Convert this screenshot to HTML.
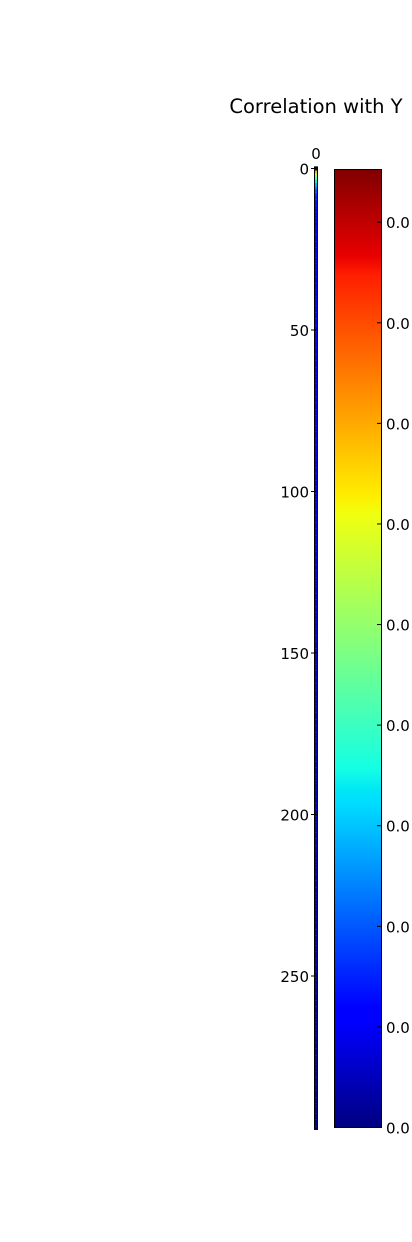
<!DOCTYPE html>
<html><head><meta charset="utf-8">
<style>
html,body{margin:0;padding:0;background:#fff;width:412px;height:1242px;overflow:hidden}
svg{display:block;font-family:"DejaVu Sans","Liberation Sans",sans-serif}
</style></head>
<body>
<svg id="chart" width="412" height="1242" viewBox="0 0 412 1242" xmlns="http://www.w3.org/2000/svg">
<defs>
<linearGradient id="jet" x1="0" y1="1" x2="0" y2="0">
<stop offset="0" stop-color="rgb(0,0,128)"/>
<stop offset="0.11" stop-color="rgb(0,0,255)"/>
<stop offset="0.125" stop-color="rgb(0,0,255)"/>
<stop offset="0.34" stop-color="rgb(0,222,255)"/>
<stop offset="0.35" stop-color="rgb(0,229,247)"/>
<stop offset="0.375" stop-color="rgb(20,255,228)"/>
<stop offset="0.5" stop-color="rgb(128,255,128)"/>
<stop offset="0.64" stop-color="rgb(240,255,15)"/>
<stop offset="0.66" stop-color="rgb(255,237,0)"/>
<stop offset="0.89" stop-color="rgb(255,30,0)"/>
<stop offset="0.91" stop-color="rgb(232,0,0)"/>
<stop offset="1" stop-color="rgb(128,0,0)"/>
</linearGradient>
</defs>
<text x="316" y="113" font-size="19.5" text-anchor="middle">Correlation with Y</text>
<g id="heat"></g>
<g id="yaxis"></g>
<text x="316" y="159" font-size="15" text-anchor="middle">0</text>
<line x1="316" y1="167" x2="316" y2="171" stroke="#000" stroke-width="1"/>
<rect x="334.5" y="169.5" width="47" height="958" fill="url(#jet)" stroke="#000" stroke-width="1"/>
<g id="cbticks"></g>
</svg>
<script>
const yTicks = [0, 50, 100, 150, 200, 250];
const cbTickLabels = ["0.0","0.0","0.0","0.0","0.0","0.0","0.0","0.0","0.0","0.0"];
const cbTickFractions = [0.945, 0.84, 0.735, 0.63, 0.525, 0.42, 0.315, 0.21, 0.105, 0.0];
const corrTop = [1.0, 0.72, 0.55, 0.45, 0.36, 0.30, 0.25, 0.21, 0.18, 0.16, 0.145, 0.135];
const corrRest = [
0.13,0.128,0.125,0.127,0.124,0.122,0.123,0.121,0.12,0.122,0.119,0.12,0.118,0.119,0.117,0.118,0.116,0.117,0.115,0.116,0.115,0.114,0.115,0.113,
0.114,0.112,0.113,0.112,0.111,0.112,0.11,0.111,0.11,0.109,0.11,0.108,0.109,0.108,0.107,0.108,0.106,0.107,0.106,0.105,0.106,0.104,0.105,0.104,
0.103,0.104,0.102,0.103,0.102,0.101,0.102,0.1,0.101,0.1,0.099,0.1,0.098,0.099,0.098,0.097,0.098,0.096,0.097,0.096,0.095,0.096,0.094,0.095,
0.094,0.093,0.094,0.092,0.093,0.092,0.091,0.092,0.09,0.091,0.09,0.089,0.09,0.088,0.089,0.088,0.087,0.088,0.086,0.087,0.086,0.085,0.086,0.084,
0.085,0.084,0.083,0.084,0.082,0.083,0.082,0.081,0.082,0.08,0.081,0.08,0.079,0.08,0.078,0.079,0.078,0.077,0.078,0.076,0.077,0.076,0.075,0.076,
0.074,0.075,0.074,0.073,0.074,0.072,0.073,0.072,0.071,0.072,0.07,0.071,0.07,0.069,0.07,0.068,0.069,0.068,0.067,0.068,0.066,0.067,0.066,0.065,
0.066,0.064,0.065,0.064,0.063,0.064,0.062,0.063,0.062,0.061,0.062,0.06,0.061,0.06,0.059,0.06,0.058,0.059,0.058,0.057,0.058,0.056,0.057,0.056,
0.055,0.056,0.054,0.055,0.054,0.053,0.054,0.052,0.053,0.052,0.051,0.052,0.05,0.051,0.05,0.049,0.05,0.048,0.049,0.048,0.047,0.048,0.046,0.047,
0.046,0.045,0.046,0.044,0.045,0.044,0.043,0.044,0.042,0.043,0.042,0.041,0.042,0.04,0.041,0.04,0.039,0.04,0.038,0.039,0.038,0.037,0.038,0.036,
0.037,0.036,0.035,0.036,0.034,0.035,0.034,0.033,0.034,0.032,0.033,0.032,0.031,0.032,0.03,0.031,0.03,0.029,0.03,0.028,0.029,0.028,0.027,0.028,
0.026,0.027,0.026,0.025,0.026,0.024,0.025,0.024,0.023,0.024,0.022,0.023,0.022,0.021,0.022,0.02,0.021,0.02,0.019,0.02,0.018,0.019,0.018,0.017,
0.018,0.016,0.017,0.016,0.015,0.016,0.014,0.015,0.014,0.013,0.014,0.012,0.013,0.012,0.011,0.012,0.01,0.011,0.01,0.009,0.01,0.008
];
const values = corrTop.concat(corrRest);

const NS = "http://www.w3.org/2000/svg";
const y0 = 168.5, pxPerRow = 3.23;
function yScale(r){ return y0 + r * pxPerRow; }
function interp(pts, v){
  for (let i=1;i<pts.length;i++){
    if (v <= pts[i][0]) { const a=pts[i-1], b=pts[i]; return a[1] + (b[1]-a[1])*(v-a[0])/(b[0]-a[0]); }
  }
  return pts[pts.length-1][1];
}
function jet(v){
  v = Math.max(0, Math.min(1, v));
  const r = interp([[0,0],[0.35,0],[0.66,1],[0.89,1],[1,0.5]], v);
  const g = interp([[0,0],[0.125,0],[0.375,1],[0.64,1],[0.91,0],[1,0]], v);
  const b = interp([[0,0.5],[0.11,1],[0.34,1],[0.65,0],[1,0]], v);
  return "rgb("+Math.round(r*255)+","+Math.round(g*255)+","+Math.round(b*255)+")";
}
const heat = document.getElementById("heat");
values.forEach((v, i) => {
  const rc = document.createElementNS(NS, "rect");
  rc.setAttribute("x", 314.5);
  rc.setAttribute("y", yScale(i - 0.5));
  rc.setAttribute("width", 3);
  rc.setAttribute("height", pxPerRow + 0.1);
  rc.setAttribute("fill", jet(v));
  
  
  heat.appendChild(rc);
});
const frame = document.createElementNS(NS, "rect");
frame.setAttribute("x", 314.5);
frame.setAttribute("y", yScale(-0.5));
frame.setAttribute("width", 3);
frame.setAttribute("height", values.length * pxPerRow);
frame.setAttribute("fill", "none");
frame.setAttribute("stroke", "#000");
frame.setAttribute("stroke-width", "1");


heat.appendChild(frame);

const yaxis = document.getElementById("yaxis");
yTicks.forEach(t => {
  const y = yScale(t);
  const ln = document.createElementNS(NS, "line");
  ln.setAttribute("x1", 311); ln.setAttribute("x2", 318);
  ln.setAttribute("y1", y); ln.setAttribute("y2", y);
  ln.setAttribute("stroke", "#000");
  
  
  yaxis.appendChild(ln);
  const tx = document.createElementNS(NS, "text");
  tx.setAttribute("x", 309); tx.setAttribute("y", y + 6);
  tx.setAttribute("font-size", "15");
  tx.setAttribute("text-anchor", "end");
  tx.textContent = t;
  
  
  yaxis.appendChild(tx);
});

const cb = document.getElementById("cbticks");
const cbTop = 169.5, cbH = 958;
cbTickLabels.forEach((lab, i) => {
  const y = cbTop + cbH * (1 - cbTickFractions[i]);
  const ln = document.createElementNS(NS, "line");
  ln.setAttribute("x1", 377); ln.setAttribute("x2", 381.5);
  ln.setAttribute("y1", y); ln.setAttribute("y2", y);
  ln.setAttribute("stroke", "#000");
  
  
  cb.appendChild(ln);
  const tx = document.createElementNS(NS, "text");
  tx.setAttribute("x", 386); tx.setAttribute("y", y + 6);
  tx.setAttribute("font-size", "15");
  tx.textContent = lab;
  
  
  cb.appendChild(tx);
});
</script>
</body></html>
